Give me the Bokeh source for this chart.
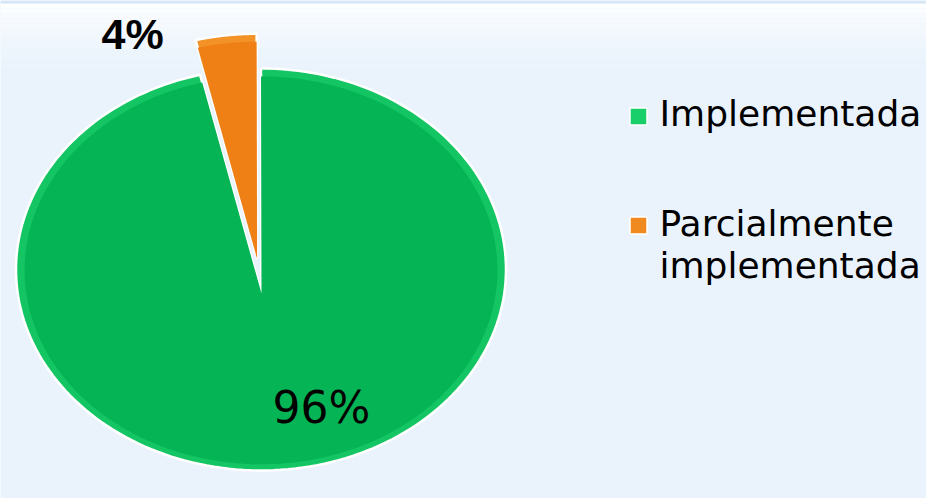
import numpy as np
from bokeh.plotting import figure
from bokeh.models import Range1d, ColumnDataSource
from bokeh.core.properties import value
from bokeh.embed import file_html
from bokeh.resources import INLINE

# ---- data ----
categories = ["Implementada", "Parcialmente implementada"]
legend_lines = [["Implementada"], ["Parcialmente", "implementada"]]
values = [96, 4]
pct_labels = ["96%", "4%"]
colors = ["#05b455", "#ef8015"]
rim_colors = ["#14c563", "#f39226"]
marker_colors = ["#19cf6a", "#f18a1e"]
explode = [0, 35]  # px

# ---- layout constants (pixel space) ----
W, H = 926, 498
cx, cy = 260.5, 269.0       # ellipse centre
ra, rb = 245.0, 201.0       # ellipse radii
apex = (261.0, 293.0)       # perspective apex of the pie

p = figure(width=W, height=H, output_backend="svg", toolbar_location=None,
           x_range=Range1d(0, W), y_range=Range1d(H, 0),
           min_border=0)
p.axis.visible = False
p.grid.visible = False
p.outline_line_color = None
p.background_fill_color = "#eaf3fc"
p.border_fill_color = "#eaf3fc"

# soft white gradient at the top of the background
bands = 14
for i in range(bands):
    t = i / bands
    p.quad(left=0, right=W, top=3 + i * 5, bottom=3 + (i + 1) * 5,
           fill_color="white", fill_alpha=0.85 * (1 - t) ** 1.5, line_color=None)
p.quad(left=0, right=W, top=0, bottom=3, fill_color="#d6e6f5", line_color=None)


def slice_poly(a0, a1, dx, dy, scale=1.0):
    th = np.radians(np.linspace(a0, a1, 200))
    ex = cx + ra * np.cos(th)
    ey = cy - rb * np.sin(th)
    ax, ay = apex
    ex = ax + (ex - ax) * scale
    ey = ay + (ey - ay) * scale
    xs = np.concatenate([[ax], ex, [ax]]) + dx
    ys = np.concatenate([[ay], ey, [ay]]) + dy
    return list(xs), list(ys)


total = float(sum(values))
cum = 0.0
outer = dict(xs=[], ys=[], color=[])
inner = dict(xs=[], ys=[], color=[])
for v, c, rc, ex in zip(values, colors, rim_colors, explode):
    a0 = 90 - cum / total * 360
    a1 = 90 - (cum + v) / total * 360
    mid = np.radians((a0 + a1) / 2)
    dx, dy = ex * np.cos(mid), -ex * np.sin(mid)
    xs, ys = slice_poly(a0, a1, dx, dy)
    outer["xs"].append(xs); outer["ys"].append(ys); outer["color"].append(rc)
    xs2, ys2 = slice_poly(a0, a1, dx, dy, scale=0.965)
    inner["xs"].append(xs2); inner["ys"].append(ys2); inner["color"].append(c)
    cum += v

p.patches("xs", "ys", source=ColumnDataSource(outer), fill_color="color",
          line_color="white", line_width=2.5)
p.patches("xs", "ys", source=ColumnDataSource(inner), fill_color="color",
          line_color=None)

# percentage labels
p.text(x=[272], y=[407], text=[pct_labels[0]], text_font=value("DejaVu Sans"),
       text_font_size="44px", text_color="black", text_baseline="alphabetic")
p.text(x=[101], y=[33], text=[pct_labels[1]], text_font=value("Liberation Sans"),
       text_font_size="43px", text_font_style="bold", text_color="black",
       text_baseline="alphabetic")

# legend
marker_y = [116, 225]
text_baselines = [[113], [223, 265]]
p.scatter(x=[638, 638], y=marker_y, marker="square", size=17,
          fill_color=marker_colors, line_color="white", line_width=1.5)
for lines, bys in zip(legend_lines, text_baselines):
    p.text(x=[659] * len(lines), y=bys, text=lines, text_font=value("DejaVu Sans"),
           text_font_size="36px", text_color="black", text_baseline="alphabetic")

open("out.html", "w").write(file_html(p, INLINE))
